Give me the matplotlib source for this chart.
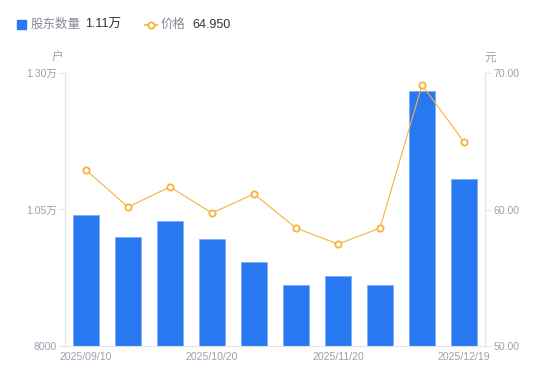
import matplotlib
matplotlib.use("Agg")
import matplotlib.pyplot as plt
from matplotlib.lines import Line2D

plt.rcParams['font.family'] = ['Liberation Sans', 'Noto Sans CJK SC', 'DejaVu Sans']

dates = ["2025/09/10", "2025/09/19", "2025/09/30", "2025/10/20", "2025/10/31",
         "2025/11/10", "2025/11/20", "2025/11/28", "2025/12/10", "2025/12/19"]
holders = [10400, 9990, 10290, 9960, 9540, 9117, 9282, 9117, 12670, 11060]
prices = [62.89, 60.18, 61.65, 59.74, 61.14, 58.64, 57.47, 58.64, 69.12, 64.95]
left_ticks = [8000, 10500, 13000]
left_labels = ["8000", "1.05万", "1.30万"]
right_ticks = [50, 60, 70]
right_labels = ["50.00", "60.00", "70.00"]
shown_idx = [0, 3, 6, 9]

blue = "#2878F2"
orange = "#F7B23B"
grey = "#9E9EB0"
axis_c = "#E3E3E8"

fig = plt.figure(figsize=(5.5, 3.81), dpi=100)
W, H = 550, 381
ax = fig.add_axes([65 / W, 1 - 346 / H, 420 / W, 273 / H])
x = list(range(len(dates)))
ax.bar(x, [h - 8000 for h in holders], bottom=8000, width=0.6, color=blue,
       edgecolor="#7FAEF7", linewidth=0.6, zorder=2)
ax.set_xlim(-0.5, len(dates) - 0.5)
ax.set_ylim(8000, 13000)
ax.set_yticks(left_ticks)
ax.set_yticklabels(left_labels)
ax.set_xticks([x[i] for i in shown_idx])
ax.set_xticklabels([dates[i] for i in shown_idx])
for s in ["top", "right"]:
    ax.spines[s].set_visible(False)
ax.spines["left"].set_color(axis_c)
ax.spines["bottom"].set_color(axis_c)
ax.tick_params(axis="y", colors=axis_c, labelcolor=grey, labelsize=7.6, length=4, width=0.8, pad=2)
ax.tick_params(axis="x", length=0, labelcolor=grey, labelsize=7.6, pad=4)

ax2 = ax.twinx()
ax2.plot(x, prices, color=orange, linewidth=0.8, marker="o", markersize=4.5,
         markerfacecolor="white", markeredgecolor=orange, markeredgewidth=1.3, zorder=3)
ax2.set_ylim(50, 70)
ax2.set_yticks(right_ticks)
ax2.set_yticklabels(right_labels)
for s in ["top", "left", "bottom"]:
    ax2.spines[s].set_visible(False)
ax2.spines["right"].set_color(axis_c)
ax2.tick_params(axis="y", colors=axis_c, labelcolor=grey, labelsize=7.6, length=4, width=0.8, pad=2)

cjk = ['Noto Sans CJK SC', 'DejaVu Sans']
fig.text(58 / W, 1 - 57 / H, "户", color=grey, fontsize=8.5, ha="center", va="center", family=cjk)
fig.text(490 / W, 1 - 57 / H, "元", color=grey, fontsize=8.5, ha="center", va="center", family=cjk)

# legend
fig.patches.append(plt.Rectangle((17 / W, 1 - 29 / H), 9 / W, 9 / H, transform=fig.transFigure,
                                 color=blue, figure=fig))
fig.text(31 / W, 1 - 24.5 / H, "股东数量", color="#888899", fontsize=9, va="center", family=cjk)
fig.text(85 / W, 1 - 24.5 / H, "1.11万", color="#333333", fontsize=9, va="center")
fig.lines.append(Line2D([145 / W, 157 / W], [1 - 24.5 / H, 1 - 24.5 / H], transform=fig.transFigure,
                        color=orange, linewidth=1.2))
fig.lines.append(Line2D([151 / W], [1 - 24.5 / H], transform=fig.transFigure, color=orange,
                        marker="o", markersize=4.5, markerfacecolor="white", markeredgewidth=1.3))
fig.text(161 / W, 1 - 24.5 / H, "价格", color="#888899", fontsize=9, va="center", family=cjk)
fig.text(192 / W, 1 - 24.5 / H, "64.950", color="#333333", fontsize=9, va="center")

fig.savefig("out.png", dpi=100)
